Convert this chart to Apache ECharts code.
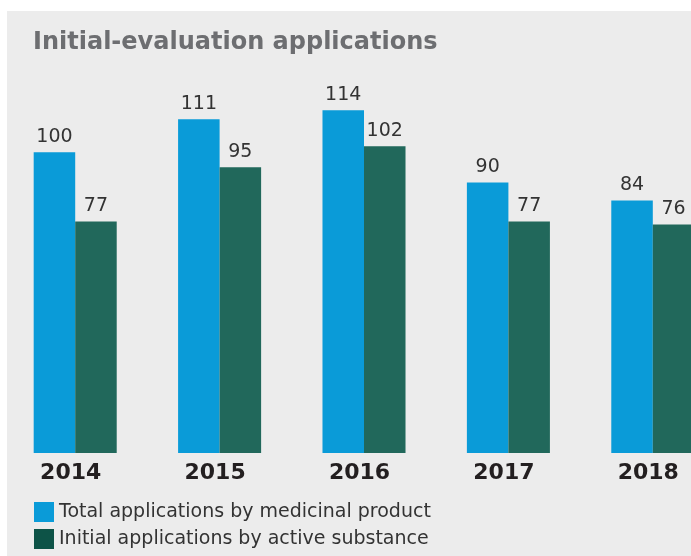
<!DOCTYPE html>
<html>
<head>
<meta charset="utf-8">
<script src="https://cdn.jsdelivr.net/npm/echarts@6/dist/echarts.min.js"></script>
<style>
  html, body { margin: 0; padding: 0; background: #ffffff; }
  #main { position: absolute; left: 7px; top: 11px; width: 684px; height: 545px; background: #ececec; }
</style>
</head>
<body>
<div id="main"></div>
<script>
var years = ['2014', '2015', '2016', '2017', '2018'];
var totalByProduct = [100, 111, 114, 90, 84];
var initialBySubstance = [77, 95, 102, 77, 76];
var seriesNames = ['Total applications by medicinal product', 'Initial applications by active substance'];

var chart = echarts.init(document.getElementById('main'));
var labelStyle = {
    show: true,
    position: 'top',
    distance: 6,
    color: '#333333',
    fontFamily: 'DejaVu Sans',
    fontSize: 19
};
var option = {
    animation: false,
    title: {
        text: 'Initial-evaluation applications',
        left: 26,
        top: 20,
        padding: 0,
        textStyle: {
            color: '#6d6e71',
            fontFamily: 'DejaVu Sans',
            fontWeight: 'bold',
            fontSize: 24
        }
    },
    legend: {
        orient: 'vertical',
        left: 27,
        top: 491,
        padding: 0,
        itemWidth: 20,
        itemHeight: 20,
        itemGap: 7,
        icon: 'rect',
        textStyle: {
            color: '#333333',
            fontFamily: 'DejaVu Sans',
            fontSize: 19,
            padding: [2, 0, 0, 0]
        },
        data: [
            { name: seriesNames[0], itemStyle: { color: '#0a9bd8' } },
            { name: seriesNames[1], itemStyle: { color: '#0d5347' } }
        ]
    },
    grid: {
        left: -4,
        width: 722,
        top: 0,
        bottom: 103,
        outerBoundsMode: 'none'
    },
    xAxis: {
        type: 'category',
        data: years,
        axisLine: { show: false },
        axisTick: { show: false },
        axisLabel: {
            margin: 9,
            padding: [0, 9, 0, 0],
            color: '#231f20',
            fontFamily: 'DejaVu Sans',
            fontWeight: 'bold',
            fontSize: 22
        }
    },
    yAxis: {
        type: 'value',
        min: 0,
        max: 147,
        show: false,
        splitLine: { show: false }
    },
    series: [{
        name: seriesNames[0],
        type: 'bar',
        data: totalByProduct,
        barGap: '0%',
        barCategoryGap: '42.5%',
        itemStyle: { color: '#0a9bd8' },
        label: labelStyle
    }, {
        name: seriesNames[1],
        type: 'bar',
        data: initialBySubstance,
        itemStyle: { color: '#21685b' },
        label: labelStyle
    }]
};
chart.setOption(option);
</script>
</body>
</html>
